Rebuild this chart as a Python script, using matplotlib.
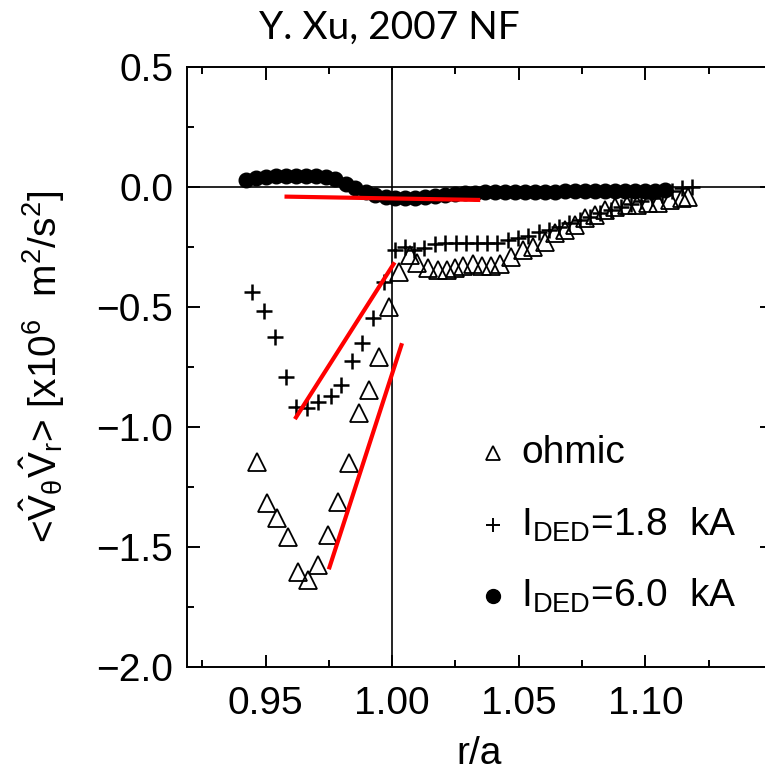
import matplotlib
matplotlib.use("Agg")
import matplotlib.pyplot as plt

plt.rcParams["font.family"] = ["Liberation Sans", "DejaVu Sans"]
plt.rcParams["mathtext.fontset"] = "custom"
plt.rcParams["mathtext.rm"] = "Liberation Sans"
plt.rcParams["mathtext.it"] = "Liberation Sans"
plt.rcParams["mathtext.bf"] = "Liberation Sans"

# ohmic discharge
ohm_r = [0.9467, 0.9507, 0.9547, 0.9588, 0.9628, 0.9669, 0.9708, 0.9748, 0.9787,
         0.9829, 0.9868, 0.9908, 0.9950, 0.9989, 1.0029, 1.0072, 1.0100, 1.0143,
         1.0183, 1.0218, 1.0250, 1.0281, 1.0321, 1.0356, 1.0392, 1.0427, 1.0470,
         1.0518, 1.0557, 1.0605, 1.0644, 1.0683, 1.0723, 1.0762, 1.0802, 1.0841,
         1.0881, 1.0928, 1.0967, 1.1011, 1.1050, 1.1097, 1.1145, 1.1168]
ohm_v = [-1.145, -1.318, -1.380, -1.457, -1.603, -1.637, -1.575, -1.450, -1.311,
         -1.151, -0.943, -0.846, -0.707, -0.499, -0.353, -0.283, -0.317, -0.338,
         -0.346, -0.346, -0.338, -0.329, -0.321, -0.329, -0.329, -0.321, -0.292,
         -0.263, -0.250, -0.229, -0.192, -0.179, -0.158, -0.129, -0.117, -0.096,
         -0.083, -0.075, -0.075, -0.067, -0.067, -0.054, -0.046, -0.042]

# I_DED = 1.8 kA
ded18_r = [0.9445, 0.9494, 0.9537, 0.9579, 0.9621, 0.9665, 0.9708, 0.9757, 0.9799,
           0.9840, 0.9882, 0.9925, 0.9967, 1.0013, 1.0049, 1.0088, 1.0127, 1.0171,
           1.0210, 1.0253, 1.0293, 1.0336, 1.0376, 1.0415, 1.0459, 1.0498, 1.0537,
           1.0581, 1.0620, 1.0660, 1.0699, 1.0742, 1.0782, 1.0821, 1.0865, 1.0904,
           1.0944, 1.0983, 1.1026, 1.1066, 1.1105, 1.1145, 1.1184]
ded18_v = [-0.436, -0.515, -0.626, -0.793, -0.918, -0.922, -0.895, -0.869, -0.825,
           -0.725, -0.651, -0.547, -0.394, -0.263, -0.250, -0.263, -0.254, -0.238,
           -0.233, -0.233, -0.233, -0.233, -0.233, -0.233, -0.221, -0.213, -0.204,
           -0.188, -0.179, -0.167, -0.150, -0.138, -0.125, -0.108, -0.096, -0.083,
           -0.071, -0.058, -0.046, -0.033, -0.017, -0.004, 0.000]

# I_DED = 6.0 kA
ded60_r = [0.9422, 0.9461, 0.9501, 0.9540, 0.9579, 0.9619, 0.9658, 0.9698, 0.9737,
           0.9776, 0.9816, 0.9855, 0.9895, 0.9934, 0.9974, 1.0013, 1.0052, 1.0092,
           1.0131, 1.0171, 1.0210, 1.0249, 1.0289, 1.0328, 1.0368, 1.0407, 1.0447,
           1.0486, 1.0526, 1.0565, 1.0605, 1.0644, 1.0683, 1.0723, 1.0762, 1.0802,
           1.0841, 1.0881, 1.0920, 1.0960, 1.0999, 1.1038, 1.1078]
ded60_v = [0.029, 0.038, 0.042, 0.046, 0.046, 0.046, 0.046, 0.046, 0.042,
           0.033, 0.013, -0.004, -0.021, -0.033, -0.042, -0.046, -0.046, -0.046,
           -0.042, -0.038, -0.033, -0.029, -0.025, -0.025, -0.021, -0.021, -0.021,
           -0.021, -0.021, -0.021, -0.021, -0.021, -0.017, -0.017, -0.017, -0.017,
           -0.017, -0.017, -0.017, -0.017, -0.017, -0.017, -0.013]

# red guide lines (r0, r1, v0, v1)
guides = [
    (0.9575, 1.0348, -0.040, -0.054),
    (0.9616, 1.0010, -0.967, -0.314),
    (0.9750, 1.0039, -1.593, -0.651),
]

xticks = [0.95, 1.00, 1.05, 1.10]
yticks = [0.5, 0.0, -0.5, -1.0, -1.5, -2.0]

fig = plt.figure(figsize=(7.65, 7.82), dpi=100)
ax = fig.add_axes([187 / 765, 1 - 667 / 782, 585 / 765, 600 / 782])

ax.axhline(0, color="black", lw=1.2, zorder=1)
ax.axvline(1.0, color="black", lw=1.2, zorder=1)

ax.plot(ded60_r, ded60_v, "o", color="black", ms=10.5, zorder=3)
ax.plot(ohm_r, ohm_v, "^", mfc="none", mec="black", mew=1.3, ms=13, zorder=3)
ax.plot(ded18_r, ded18_v, "+", color="black", mew=1.8, ms=12, zorder=3)

for r0, r1, v0, v1 in guides:
    ax.plot([r0, r1], [v0, v1], color="red", lw=3, solid_capstyle="butt", zorder=4)

ax.set_xlim(0.919, 1.15)
ax.set_ylim(-2.0, 0.5)
ax.set_xticks(xticks)
ax.set_xticklabels([f"{t:.2f}" for t in xticks])
ax.set_xticks([0.925, 0.975, 1.025, 1.075, 1.125], minor=True)
ax.set_yticks(yticks)
ax.set_yticklabels([f"{t:.1f}".replace("-", "\u2212") for t in yticks])
ax.set_yticks([0.25, -0.25, -0.75, -1.25, -1.75], minor=True)

ax.tick_params(which="both", direction="in", top=True, right=True, width=1.4,
               labelsize=28, color="black")
ax.tick_params(which="major", length=9)
ax.tick_params(which="minor", length=5)
ax.tick_params(axis="x", pad=14)
ax.tick_params(axis="y", pad=10)
for s in ax.spines.values():
    s.set_linewidth(1.4)

ax.set_xlabel("r/a", fontsize=28, labelpad=10)
ax.set_ylabel(r"<$\hat{V}_{\theta}\hat{V}_{r}$> [x10$^{6}$  m$^{2}$/s$^{2}$]", fontsize=28)
ax.yaxis.set_label_coords(-0.205, 0.5)

# legend drawn by hand inside the frame
leg_items = [("^", "ohmic"), ("+", r"$\mathrm{I_{DED}}$=1.8  kA"), ("o", r"$\mathrm{I_{DED}}$=6.0  kA")]
leg_y = [0.357, 0.237, 0.118]
for (mk, lab), yy in zip(leg_items, leg_y):
    if mk == "^":
        ax.plot([0.523], [yy], mk, mfc="none", mec="black", mew=1.3, ms=10, transform=ax.transAxes)
    elif mk == "+":
        ax.plot([0.523], [yy], mk, color="black", mew=1.4, ms=10, transform=ax.transAxes)
    else:
        ax.plot([0.523], [yy], mk, color="black", ms=10, transform=ax.transAxes)
    ax.text(0.571, yy, lab, transform=ax.transAxes, fontsize=28, va="center", ha="left")

fig.text(389 / 765, 1 - 28 / 782, "Y. Xu, 2007 NF", fontsize=28, family=["Lato", "DejaVu Sans"],
         ha="center", va="center")

fig.savefig("out.png", dpi=100)
